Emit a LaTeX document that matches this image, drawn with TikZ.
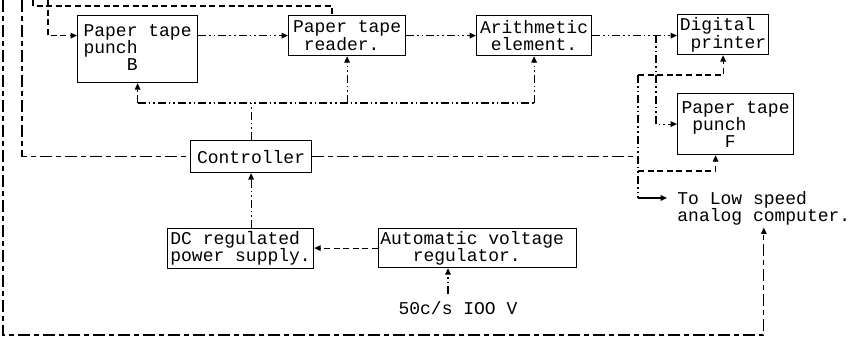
\documentclass[tikz,border=0pt]{standalone}
\usepackage{fontspec}
\newfontfamily\typerfont{Liberation Mono}
\usetikzlibrary{arrows.meta,positioning}

\begin{document}
\begin{tikzpicture}[
  x=0.5pt, y=-0.5pt,
  every node/.style={font=\typerfont\fontsize{9}{8.5}\selectfont},
  box/.style={draw, line width=0.6pt, anchor=north west, inner sep=0pt, align=left},
  arr/.style={-{Triangle[length=3.2pt,width=2.8pt]}},
  lnk/.style={line width=0.55pt},
  ddot/.style={lnk, dash pattern=on 4pt off 1.5pt on 0.8pt off 1.5pt on 0.8pt off 1.5pt},
  dsh/.style={lnk, dash pattern=on 3pt off 1.8pt},
  dlong/.style={lnk, dash pattern=on 6pt off 2pt on 2.5pt off 2pt}
]
  \useasboundingbox (0,0) rectangle (853,341);

  \node[box, minimum width=60pt, minimum height=33.5pt] (punchB) at (77,15) {Paper tape\\punch\\\phantom{punc}B};
  \node[box, minimum width=58.5pt, minimum height=20pt] (reader) at (288,15) {Paper tape\\[0.3pt]\phantom{x}reader.};
  \node[box, minimum width=57.5pt, minimum height=20pt] (arith) at (476,15) {Arithmetic\\[0.3pt]\phantom{x}element.};
  \node[box, minimum width=45.5pt, minimum height=20pt] (printer) at (677,14) {Digital\\[0.3pt]\phantom{x}printer};
  \node[box, minimum width=58pt, minimum height=30.5pt] (punchF) at (677,93) {Paper tape\\\phantom{x}punch\\\phantom{xxxx}F};
  \node[box, minimum width=60.5pt, minimum height=16pt] (ctrl) at (190,140) {Controller};
  \node[box, minimum width=73pt, minimum height=20pt] (dc) at (167,228) {DC regulated\\power supply.};
  \node[box, minimum width=99pt, minimum height=19.5pt] (avr) at (378,228) {Automatic voltage\phantom{x}\\\phantom{xxx}regulator.};
  \node (mains) at (458,308) {50c/s IOO V};
  \node[anchor=north west, align=left, inner xsep=5pt, inner ysep=1pt] (analog) at (667,189) {To Low speed\\analog computer.};

  \coordinate (topA) at (33,0);
  \coordinate (topB) at (48,0);
  \coordinate (bendA) at (332,6);
  \coordinate (sideL) at (3,0);
  \coordinate (sideC) at (22,0);
  \coordinate (bus) at (137,103);
  \coordinate (loopB) at (3,335);
  \coordinate (jtop) at (638,75);
  \coordinate (jmid) at (638,171);
  \coordinate (jlow) at (638,198);
  \coordinate (split) at (656,35);

  \draw[dsh] (topA) |- (bendA) -- (bendA |- reader.north);
  \draw[dsh, arr] (topB) |- (punchB.west |- reader.west);
  \draw[ddot, arr] (punchB.east |- reader.west) -- (reader.west);
  \draw[ddot, arr] (reader.east) -- (arith.west);
  \draw[ddot, arr] (arith.east) -- (printer.west |- arith.east);
  \draw[ddot, arr] (split) |- (punchF.west);

  \draw[ddot] (punchB.south |- bus) -- (arith.south |- bus);
  \draw[ddot, arr] (punchB.south |- bus) -- (punchB.south);
  \draw[ddot, arr] (reader.south |- bus) -- (reader.south);
  \draw[ddot, arr] (arith.south |- bus) -- (arith.south);
  \draw[ddot] (ctrl.north) -- (ctrl.north |- bus);

  \draw[dlong] (sideC) |- (ctrl.west);
  \draw[dlong] (ctrl.east) -- (ctrl.east -| jtop);
  \draw[ddot] (jtop) -- (jlow);
  \draw[dsh, arr] (jtop) -| (printer.south);
  \draw[dsh, arr] (jmid) -| ([xshift=-10pt]punchF.south);
  \draw[lnk, arr] (jlow) -- (jlow -| analog.west);
  \draw[dlong, arr] (sideL) |- (analog.south |- loopB) -- (analog.south);

  \draw[ddot, arr] (ctrl.south |- dc.north) -- (ctrl.south);
  \draw[dsh, arr] (avr.west) -- (avr.west -| dc.east);
  \draw[ddot, arr] ([xshift=-5pt]mains.north) -- ([xshift=-5pt]mains.north |- avr.south);
\end{tikzpicture}
\end{document}
